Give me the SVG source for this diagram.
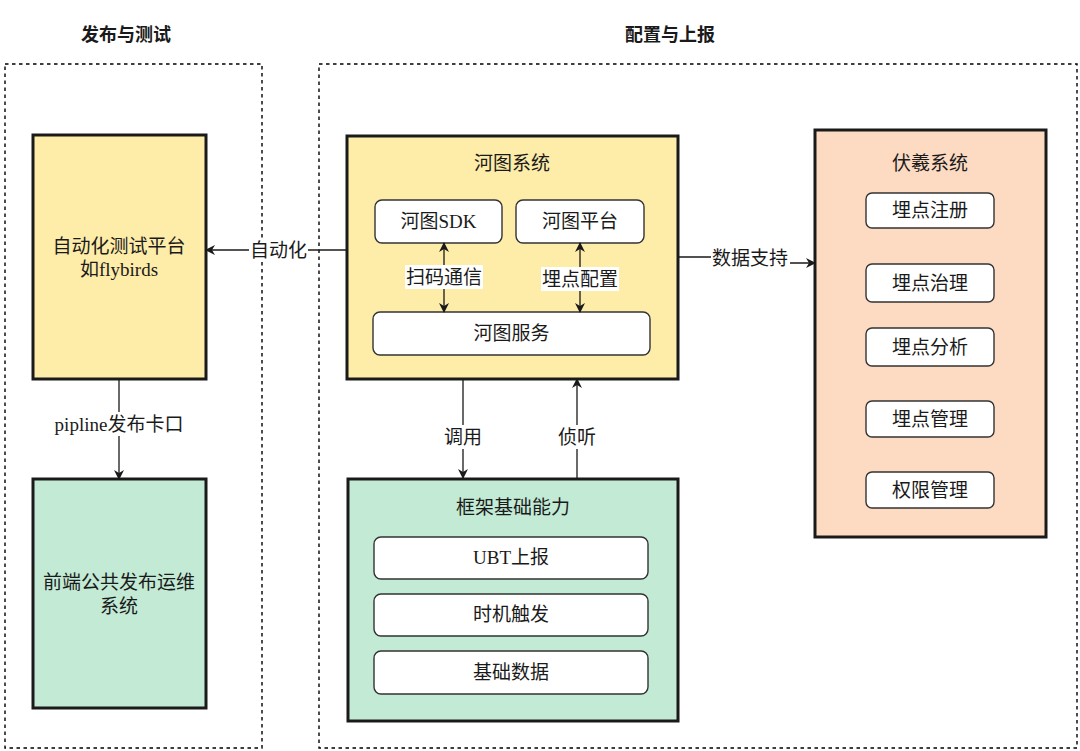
<svg xmlns="http://www.w3.org/2000/svg" width="1080" height="751" viewBox="0 0 1080 751">
<style>
text{font-family:"Liberation Serif","Noto Sans CJK SC",serif;font-size:19px;fill:#1a1a1a;text-anchor:middle}
.title{font-weight:bold;font-size:18px}
.sub{font-size:19px}
.grp{fill:none;stroke:#000;stroke-width:1.4;stroke-dasharray:3.5 3.5}
.big{stroke:#1a1a1a;stroke-width:3}
.y{fill:#FEECA9}
.g{fill:#C2EAD5}
.p{fill:#FDDBC3}
.in{fill:#fff;stroke:#333;stroke-width:1.4}
.c{fill:none;stroke:#1a1a1a;stroke-width:1.3}
.lb{fill:#fff}
</style>
<defs>
<marker id="ah" viewBox="0 0 10 10" refX="9" refY="5" markerWidth="10" markerHeight="10" markerUnits="userSpaceOnUse" orient="auto-start-reverse">
<path d="M0,0 L10,5 L0,10 L3,5 Z" fill="#1a1a1a"/>
</marker>
</defs>
<rect width="1080" height="751" fill="#fff"/>

<g id="group-release-test">
<rect class="grp" x="5" y="64" width="257" height="684"/>
<text class="title" x="126" y="41">发布与测试</text>
</g>
<g id="group-config-report">
<rect class="grp" x="319" y="64" width="758" height="684"/>
<text class="title" x="670" y="41">配置与上报</text>
</g>

<g id="auto-test-platform">
<rect class="big y" x="33" y="135" width="173" height="244"/>
<text x="119" y="253">自动化测试平台</text>
<text x="119" y="276">如flybirds</text>
</g>

<g id="release-ops">
<rect class="big g" x="33" y="479" width="173" height="229"/>
<text x="119" y="589">前端公共发布运维</text>
<text x="119" y="613">系统</text>
</g>

<g id="hetu-system">
<rect class="big y" x="347" y="136" width="331" height="243"/>
<text class="sub" x="512" y="170">河图系统</text>
</g>
<g id="hetu-sdk">
<rect class="in" x="375" y="200" width="127" height="43" rx="7"/>
<text x="438.5" y="228">河图SDK</text>
</g>
<g id="hetu-platform">
<rect class="in" x="516" y="200" width="128" height="43" rx="7"/>
<text x="580" y="228">河图平台</text>
</g>
<g id="hetu-service">
<rect class="in" x="373" y="312" width="277" height="43" rx="7"/>
<text x="511.5" y="340">河图服务</text>
</g>

<g id="framework">
<rect class="big g" x="348" y="479" width="330" height="242"/>
<text class="sub" x="513" y="514">框架基础能力</text>
</g>
<g id="ubt-report">
<rect class="in" x="374" y="537" width="274" height="42" rx="7"/>
<text x="511" y="564">UBT上报</text>
</g>
<g id="timing-trigger">
<rect class="in" x="374" y="594" width="274" height="42" rx="7"/>
<text x="511" y="621">时机触发</text>
</g>
<g id="base-data">
<rect class="in" x="374" y="651" width="274" height="43" rx="7"/>
<text x="511" y="679">基础数据</text>
</g>

<g id="fuxi-system">
<rect class="big p" x="815" y="130" width="231" height="407"/>
<text class="sub" x="930" y="170">伏羲系统</text>
</g>
<g id="track-register">
<rect class="in" x="866" y="193" width="128" height="35" rx="6"/>
<text x="930" y="217">埋点注册</text>
</g>
<g id="track-govern">
<rect class="in" x="866" y="264" width="128" height="38" rx="6"/>
<text x="930" y="290">埋点治理</text>
</g>
<g id="track-analysis">
<rect class="in" x="866" y="328" width="128" height="38" rx="6"/>
<text x="930" y="354">埋点分析</text>
</g>
<g id="track-manage">
<rect class="in" x="866" y="401" width="128" height="36" rx="6"/>
<text x="930" y="426">埋点管理</text>
</g>
<g id="perm-manage">
<rect class="in" x="866" y="472" width="128" height="36" rx="6"/>
<text x="930" y="497">权限管理</text>
</g>

<g id="connectors">
<path class="c" d="M347,250 L206,250" marker-end="url(#ah)"/>
<rect class="lb" x="249" y="238" width="59" height="24"/>
<text x="278.5" y="257">自动化</text>

<path class="c" d="M119,379 L119,479" marker-end="url(#ah)"/>
<rect class="lb" x="52" y="412" width="134" height="24"/>
<text x="119" y="431">pipline发布卡口</text>

<path class="c" d="M463,379 L463,478" marker-end="url(#ah)"/>
<rect class="lb" x="443" y="425" width="40" height="24"/>
<text x="463" y="444">调用</text>

<path class="c" d="M577,478 L577,379" marker-end="url(#ah)"/>
<rect class="lb" x="557" y="425" width="40" height="24"/>
<text x="577" y="444">侦听</text>

<path class="c" d="M444,243 L444,312" marker-start="url(#ah)" marker-end="url(#ah)"/>
<rect class="lb" x="405" y="265" width="78" height="24"/>
<text x="444" y="284">扫码通信</text>

<path class="c" d="M580,243 L580,312" marker-start="url(#ah)" marker-end="url(#ah)"/>
<rect class="lb" x="541" y="267" width="78" height="24"/>
<text x="580" y="286">埋点配置</text>

<path class="c" d="M678,257 L750,257 L750,263 L815,263" marker-end="url(#ah)"/>
<rect class="lb" x="711" y="246" width="79" height="24"/>
<text x="750" y="265">数据支持</text>
</g>
</svg>
